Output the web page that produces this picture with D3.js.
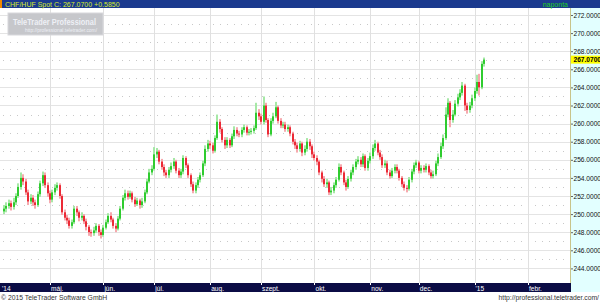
<!DOCTYPE html>
<html>
<head>
<meta charset="utf-8">
<script src="https://d3js.org/d3.v7.min.js"></script>
<style>
  body { margin: 0; background: #fff; }
  svg { display: block; font-family: "Liberation Sans", Arial, sans-serif; }
</style>
</head>
<body>
<svg id="chart" width="600" height="302"></svg>
<script>
// trading-day index of the first bar (index 0 = 1 Apr 2014)
var firstIndex = 3;

var opens = [
250.3,250.6,250.9,251.2,250.8,251.3,252.0,253.0,254.0,253.6,
252.4,251.4,251.8,251.3,251.0,252.2,253.4,254.3,253.2,252.3,
251.6,252.4,252.9,253.2,252.0,250.2,249.6,249.3,248.7,249.1,
250.6,250.2,249.6,249.8,249.2,248.6,248.0,247.9,248.2,248.7,
248.0,247.7,248.5,249.1,249.8,249.4,248.7,248.4,249.5,250.6,
251.8,252.3,251.9,252.3,251.6,251.1,251.5,251.0,251.4,252.4,
253.6,254.6,255.0,256.6,256.9,255.8,255.2,254.6,254.3,254.9,
255.3,255.8,254.8,254.3,254.7,256.2,255.4,254.3,253.3,252.6,
253.2,253.8,254.3,255.6,257.2,257.8,257.6,257.0,258.4,260.2,
259.4,258.2,257.6,258.2,257.6,258.6,259.3,258.9,258.8,259.3,
259.6,259.0,259.1,259.2,259.5,261.2,260.8,260.2,262.0,260.4,
258.8,260.3,260.8,261.8,260.3,259.8,259.9,259.4,259.6,258.9,
258.0,257.6,257.2,257.8,256.8,257.2,258.0,257.5,256.6,256.2,
255.8,254.6,253.9,253.3,253.5,252.4,252.6,253.2,253.8,255.2,
254.6,253.5,253.0,253.9,254.6,255.2,255.8,256.0,255.5,256.4,
255.1,255.9,256.4,257.3,257.8,256.8,256.3,255.4,255.6,254.6,
254.2,254.8,255.2,254.8,254.0,253.3,252.9,252.8,253.8,254.7,
255.4,255.7,254.8,255.1,254.9,255.3,254.6,254.2,254.4,255.6,
256.3,257.5,258.4,261.0,262.3,260.4,261.0,262.2,262.9,263.4,
264.2,262.0,261.5,262.0,262.8,263.6,264.6,264.0,266.6];

var highs = [
251.0,251.3,251.6,251.5,251.8,252.3,253.4,254.6,254.4,253.9,
252.7,252.2,252.1,251.6,252.5,253.7,254.7,254.6,253.5,252.6,
252.7,253.3,253.5,253.4,252.2,250.5,249.9,249.6,249.4,250.9,
250.9,250.4,250.2,250.0,249.5,248.8,248.3,248.6,249.0,248.9,
248.3,248.8,249.4,250.1,250.2,249.6,249.0,249.8,250.9,252.1,
252.7,252.6,252.6,252.5,251.9,251.8,251.7,251.8,252.7,253.9,
255.0,255.4,257.4,257.3,257.1,256.1,255.5,254.9,255.2,255.7,
256.2,256.0,255.1,255.0,256.5,256.4,255.6,254.5,253.6,253.5,
254.1,254.6,255.9,257.6,258.2,258.1,257.9,258.7,261.0,260.5,
259.6,258.5,258.5,258.4,258.9,259.7,259.6,259.2,259.6,259.9,
259.8,259.4,259.5,259.8,262.3,261.6,261.1,263.0,262.3,260.6,
260.6,261.2,262.4,262.0,260.6,260.2,260.2,259.9,259.8,259.1,
258.3,257.9,258.1,258.0,257.6,258.4,258.3,257.7,256.9,256.5,
256.0,254.8,254.2,253.9,253.7,253.0,253.5,254.1,255.6,255.5,
254.8,253.8,254.2,254.9,255.5,256.1,256.4,256.3,256.7,256.6,
256.2,256.8,257.7,258.2,258.0,257.1,256.6,256.0,255.9,254.9,
255.1,255.5,255.5,255.0,254.2,253.6,253.2,254.1,255.0,255.7,
256.0,255.9,255.4,255.4,255.6,255.5,254.9,254.8,255.9,256.7,
257.9,258.8,261.8,262.8,262.5,261.5,262.6,263.3,263.8,264.6,
264.4,262.3,262.4,263.2,264.0,265.4,265.5,266.9,267.3];

var lows = [
250.0,250.2,250.6,250.4,250.5,251.0,251.8,252.7,253.2,252.1,
251.0,251.1,250.9,250.6,250.8,251.9,253.1,252.9,251.9,251.2,
251.3,252.1,252.6,251.7,249.9,249.3,248.9,248.4,248.4,248.9,
249.8,249.2,249.3,248.9,248.2,247.6,247.5,247.6,247.9,247.6,
247.3,247.5,248.3,248.9,249.1,248.4,248.0,248.2,249.3,250.4,
251.5,251.6,251.7,251.3,250.8,250.9,250.6,250.7,251.2,252.2,
253.4,254.3,254.8,256.2,255.5,254.9,254.2,254.0,254.0,254.6,
255.0,254.5,254.0,254.0,254.4,255.1,254.0,253.0,252.3,252.3,
252.9,253.5,254.1,255.3,256.9,257.2,256.7,256.8,258.2,259.0,
257.9,257.2,257.3,257.3,257.4,258.3,258.6,258.5,258.5,259.0,
258.7,258.7,258.8,258.9,259.3,260.4,259.9,259.9,260.1,258.5,
258.6,260.0,260.6,260.0,259.5,259.5,259.1,259.1,258.6,257.7,
257.2,256.8,256.9,256.4,256.5,256.9,257.1,256.2,255.9,255.4,
254.3,253.5,253.0,252.9,252.1,252.1,252.3,252.9,253.6,254.3,
253.2,252.6,252.8,253.6,254.3,254.9,255.5,255.2,255.2,254.8,
254.8,255.6,256.1,257.0,256.5,256.0,255.1,255.1,254.3,253.9,
254.0,254.5,254.5,253.7,253.0,252.6,252.4,252.6,253.5,254.4,
255.1,254.5,254.5,254.6,254.6,254.3,253.9,253.9,254.2,255.3,
256.1,257.2,258.2,260.7,259.6,260.1,260.8,261.9,262.6,263.1,
261.4,261.1,261.2,261.7,262.5,263.3,263.1,263.8,266.3];

var closes = [
250.6,250.9,251.2,250.8,251.3,252.0,253.0,254.0,253.6,252.4,
251.4,251.8,251.3,251.0,252.2,253.4,254.3,253.2,252.3,251.6,
252.4,252.9,253.2,252.0,250.2,249.6,249.3,248.7,249.1,250.6,
250.2,249.6,249.8,249.2,248.6,248.0,247.9,248.2,248.7,248.0,
247.7,248.5,249.1,249.8,249.4,248.7,248.4,249.5,250.6,251.8,
252.3,251.9,252.3,251.6,251.1,251.5,251.0,251.4,252.4,253.6,
254.6,255.0,256.6,256.9,255.8,255.2,254.6,254.3,254.9,255.3,
255.8,254.8,254.3,254.7,256.2,255.4,254.3,253.3,252.6,253.2,
253.8,254.3,255.6,257.2,257.8,257.6,257.0,258.4,260.2,259.4,
258.2,257.6,258.2,257.6,258.6,259.3,258.9,258.8,259.3,259.6,
259.0,259.1,259.2,259.5,261.2,260.8,260.2,262.0,260.4,258.8,
260.3,260.8,261.8,260.3,259.8,259.9,259.4,259.6,258.9,258.0,
257.6,257.2,257.8,256.8,257.2,258.0,257.5,256.6,256.2,255.8,
254.6,253.9,253.3,253.5,252.4,252.6,253.2,253.8,255.2,254.6,
253.5,253.0,253.9,254.6,255.2,255.8,256.0,255.5,256.4,255.1,
255.9,256.4,257.3,257.8,256.8,256.3,255.4,255.6,254.6,254.2,
254.8,255.2,254.8,254.0,253.3,252.9,252.8,253.8,254.7,255.4,
255.7,254.8,255.1,254.9,255.3,254.6,254.2,254.4,255.6,256.3,
257.5,258.4,261.0,262.3,260.4,261.0,262.2,262.9,263.4,264.2,
262.0,261.5,262.0,262.8,263.6,264.6,264.0,266.6,267.07];

// month starts as trading-day indices
var monthIndex = [0, 22, 44, 65, 88, 109, 131, 154, 174, 197, 219];
var monthLabels = ["'14", "máj.", "jún.", "júl.", "aug.", "szept.", "okt.", "nov.", "dec.", "'15", "febr."];
var yTicks = [244, 246, 248, 250, 252, 254, 256, 258, 260, 262, 264, 266, 268, 270, 272];
var lastPrice = 267.07;
var headerText = "CHF/HUF Spot C: 267.0700 +0.5850";

var bars = opens.map(function(o, i) {
    return { i: firstIndex + i, o: o, h: highs[i], l: lows[i], c: closes[i] };
});

var svg = d3.select("#chart");
var W = 600, H = 302;
var plotRight = 570, plotTop = 8, plotBottom = 283;

var x = d3.scaleLinear().domain([22, 219]).range([50, 528]);
var y = d3.scaleLinear().domain([244, 272]).range([268.4, 15]);

svg.append("rect").attr("width", W).attr("height", H).attr("fill", "#fff");

// grid
var grid = svg.append("g");
grid.selectAll(".hg").data(yTicks).enter().append("line")
    .attr("x1", 0).attr("x2", plotRight)
    .attr("y1", d => Math.round(y(d)) + 0.5).attr("y2", d => Math.round(y(d)) + 0.5)
    .attr("stroke", "#e4e4e4").attr("stroke-width", 1);
grid.selectAll(".hd").data(yTicks.map(d => d + 1).filter(d => d < 273)).enter().append("line")
    .attr("x1", 3).attr("x2", plotRight)
    .attr("y1", d => Math.round(y(d)) + 0.5).attr("y2", d => Math.round(y(d)) + 0.5)
    .attr("stroke", "#c8c8c8").attr("stroke-width", 1).attr("stroke-dasharray", "1,6");
grid.selectAll(".vg").data(monthIndex.slice(1)).enter().append("line")
    .attr("x1", d => Math.round(x(d)) + 0.5).attr("x2", d => Math.round(x(d)) + 0.5)
    .attr("y1", plotTop).attr("y2", plotBottom)
    .attr("stroke", "#e0e0e0").attr("stroke-width", 1);

// watermark
var wm = svg.append("g");
wm.append("rect").attr("x", 8).attr("y", 13).attr("width", 95).attr("height", 22)
    .attr("fill", "#c6c7cb").attr("stroke", "#d8d8dc");
wm.append("text").attr("x", 13).attr("y", 25)
    .attr("font-size", 9).attr("font-weight", "bold").attr("fill", "#eef0f6")
    .attr("textLength", 83).attr("lengthAdjust", "spacingAndGlyphs")
    .text("TeleTrader Professional");
wm.append("text").attr("x", 25).attr("y", 31.5)
    .attr("font-size", 5).attr("fill", "#eef0f6")
    .attr("textLength", 72).attr("lengthAdjust", "spacingAndGlyphs")
    .text("http://professional.teletrader.com/");

// candles
var up = "#2fcc2f", upLight = "#a6e8a6", down = "#ec2a36", downLight = "#f6a9ae";
var bw = 2;
var cg = svg.append("g");
cg.selectAll(".wick").data(bars).enter().append("rect")
    .attr("x", d => Math.round(x(d.i)) - 1).attr("width", bw)
    .attr("y", d => y(d.h)).attr("height", d => Math.max(1, y(d.l) - y(d.h)))
    .attr("fill", d => d.c >= d.o ? upLight : downLight);
cg.selectAll(".body").data(bars).enter().append("rect")
    .attr("x", d => Math.round(x(d.i)) - 1).attr("width", bw)
    .attr("y", d => y(Math.max(d.o, d.c)))
    .attr("height", d => Math.max(1, Math.abs(y(d.o) - y(d.c))))
    .attr("fill", d => d.c >= d.o ? up : down);

// header bar
svg.append("rect").attr("x", 0).attr("y", 0).attr("width", W).attr("height", plotTop)
    .attr("fill", "#1b3a8e");
svg.append("rect").attr("x", 0).attr("y", 0).attr("width", 2).attr("height", plotTop)
    .attr("fill", "#f08a00");
svg.append("text").attr("x", 5).attr("y", 6.5).attr("font-size", 7)
    .attr("fill", "#d8ec2a").text(headerText);
svg.append("text").attr("x", 568).attr("y", 6.5).attr("font-size", 7).attr("text-anchor", "end")
    .attr("fill", "#22d022").text("naponta");

// right axis panel
svg.append("rect").attr("x", plotRight + 1).attr("y", plotTop).attr("width", W - plotRight - 1)
    .attr("height", plotBottom - plotTop).attr("fill", "#e2ffff");
svg.append("line").attr("x1", plotRight + 0.5).attr("x2", plotRight + 0.5)
    .attr("y1", plotTop).attr("y2", plotBottom).attr("stroke", "#c8c48a");
var yAxis = svg.append("g").attr("transform", "translate(" + (plotRight + 1) + ",0)")
    .call(d3.axisRight(y).tickValues(yTicks).tickSize(2).tickFormat(d3.format(".4f")));
yAxis.select(".domain").remove();
yAxis.selectAll(".tick line").attr("stroke", "#666");
yAxis.selectAll(".tick text").attr("x", 2.5).attr("font-size", 6.6)
    .attr("font-family", "Liberation Sans, Arial, sans-serif").attr("fill", "#111");

// last price marker
svg.append("rect").attr("x", plotRight + 1).attr("y", y(lastPrice) - 4)
    .attr("width", W - plotRight - 1).attr("height", 8).attr("fill", "#ffff00");
svg.append("text").attr("x", plotRight + 3.5).attr("y", y(lastPrice) + 2.4)
    .attr("font-size", 6.6).attr("font-weight", "bold").attr("fill", "#000")
    .text(d3.format(".4f")(lastPrice));

// bottom axis bar
svg.append("rect").attr("x", 0).attr("y", plotBottom).attr("width", W).attr("height", 9)
    .attr("fill", "#0b0c45");
svg.append("rect").attr("x", plotRight + 1).attr("y", plotBottom).attr("width", W - plotRight - 1)
    .attr("height", 9).attr("fill", "#e2ffff");
var xa = svg.append("g");
xa.selectAll("line").data(monthIndex).enter().append("line")
    .attr("x1", d => Math.round(x(d)) + 0.5).attr("x2", d => Math.round(x(d)) + 0.5)
    .attr("y1", plotBottom).attr("y2", plotBottom + 2).attr("stroke", "#fff");
xa.selectAll("text").data(monthIndex).enter().append("text")
    .attr("x", d => Math.max(2, x(d) + 1)).attr("y", plotBottom + 7.5)
    .attr("font-size", 6.6).attr("fill", "#fff")
    .text((d, i) => monthLabels[i]);

// footer
svg.append("text").attr("x", 1).attr("y", 300).attr("font-size", 6.8).attr("fill", "#333")
    .text("© 2015 TeleTrader Software GmbH");
svg.append("text").attr("x", 599).attr("y", 300).attr("font-size", 6.8).attr("fill", "#333")
    .attr("text-anchor", "end").text("http://professional.teletrader.com/");
</script>
</body>
</html>
